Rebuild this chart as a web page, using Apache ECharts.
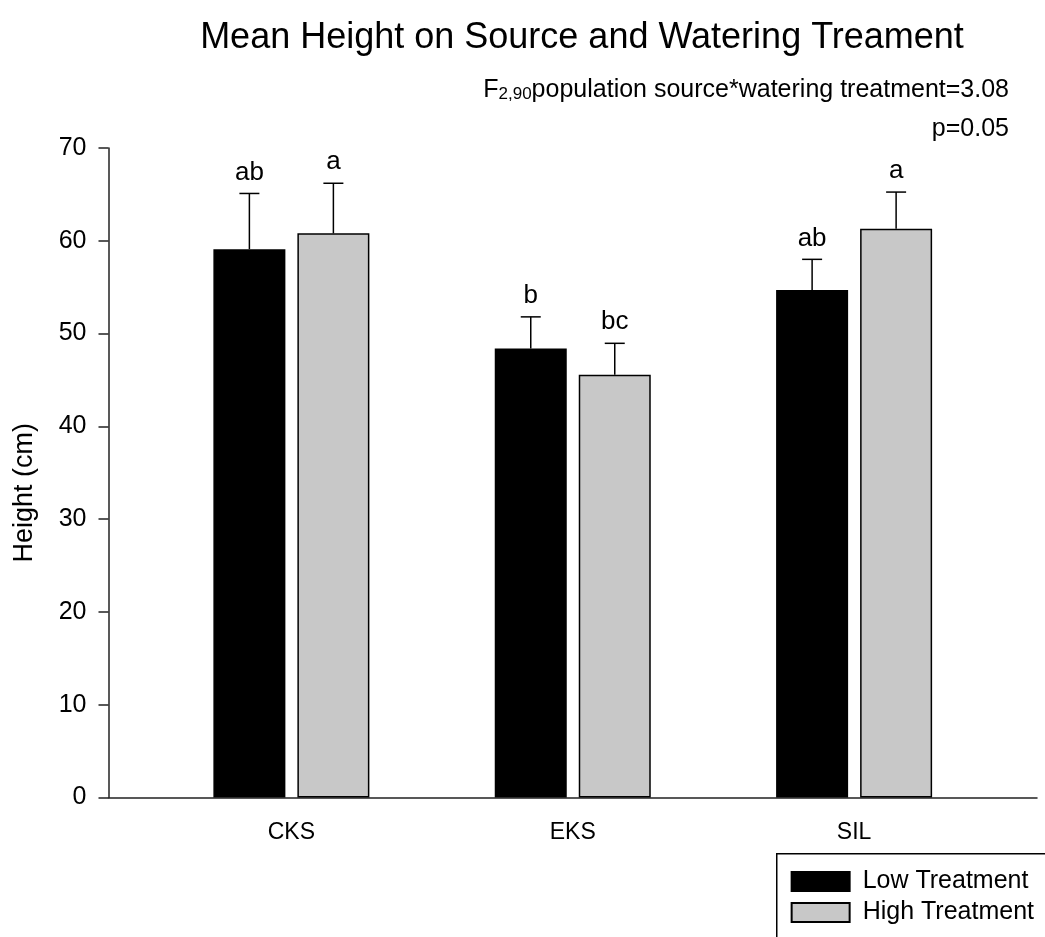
<!DOCTYPE html>
<html>
<head>
<meta charset="utf-8">
<script src="https://cdn.jsdelivr.net/npm/echarts@6/dist/echarts.min.js"></script>
<style>html,body{margin:0;padding:0;background:#fff;}#chart{width:1045px;height:937px;}</style>
</head>
<body>
<div id="chart"></div>
<script>
const categories = ['CKS', 'EKS', 'SIL'];
const catPos = [1, 2, 3];
const lowMeans = [59.1, 48.4, 54.7];
const lowErr = [6.0, 3.4, 3.3];
const lowLetters = ['ab', 'b', 'ab'];
const highMeans = [60.8, 45.55, 61.3];
const highErr = [5.4, 3.4, 3.95];
const highLetters = ['a', 'bc', 'a'];
const seriesNames = ['Low Treatment', 'High Treatment'];
const titleText = 'Mean Height on Source and Watering Treament';
const statText = ['F', '2,90', 'population source*watering treatment=3.08'];
const pText = 'p=0.05';
const yAxisName = 'Height (cm)';

const FONT = "'Liberation Sans', Arial, sans-serif";
const BAR_W = 72;
const GAP_PX = 12;
const OFFSET = (BAR_W + GAP_PX) / 2;

function barData(means) { return catPos.map((x, i) => [x, means[i]]); }
function errData(means, errs, letters) { return catPos.map((x, i) => [x, means[i], errs[i], letters[i]]); }

const errSource = {};
errSource[2] = errData(lowMeans, lowErr, lowLetters);
errSource[3] = errData(highMeans, highErr, highLetters);

function makeErrRender(shift) {
  return function (params, api) {
    const x = api.value(0), m = api.value(1), e = api.value(2);
    const letter = errSource[params.seriesIndex][params.dataIndex][3];
    const p0 = api.coord([x, m]);
    const p1 = api.coord([x, m + e]);
    const cx = p0[0] + shift;
    return {
      type: 'group',
      children: [
        { type: 'line', shape: { x1: cx, y1: p0[1], x2: cx, y2: p1[1] }, style: { stroke: '#000', lineWidth: 1.5 } },
        { type: 'line', shape: { x1: cx - 10, y1: p1[1], x2: cx + 10, y2: p1[1] }, style: { stroke: '#000', lineWidth: 1.5 } },
        { type: 'text', x: cx, y: p1[1] - 8, style: { text: letter, fill: '#000', font: '26px ' + FONT, align: 'center', verticalAlign: 'bottom' } }
      ]
    };
  };
}

const chart = echarts.init(document.getElementById('chart'));
chart.setOption({
  animation: false,
  backgroundColor: '#fff',
  textStyle: { fontFamily: FONT },
  title: [
    { text: titleText, left: 577, top: 15, textAlign: 'center',
      textStyle: { fontFamily: FONT, fontSize: 36, fontWeight: 'normal', color: '#000' } },
    { text: '{f|' + statText[0] + '}{s|' + statText[1] + '}{f|' + statText[2] + '}', right: 31, top: 68,
      textStyle: { fontWeight: 'normal', rich: {
        f: { fontFamily: FONT, fontSize: 25, fontWeight: 'normal', color: '#000', verticalAlign: 'bottom', lineHeight: 30 },
        s: { fontFamily: FONT, fontSize: 17, fontWeight: 'normal', color: '#000', verticalAlign: 'bottom', lineHeight: 12 } } } },
    { text: pText, right: 31, top: 112,
      textStyle: { fontFamily: FONT, fontSize: 25, fontWeight: 'normal', color: '#000' } }
  ],
  graphic: [
    { type: 'rect', shape: { x: 776.75, y: 853.75, width: 400, height: 200 }, z: 0,
      style: { fill: 'none', stroke: '#000', lineWidth: 1.5 } }
  ],
  legend: {
    data: seriesNames,
    orient: 'vertical',
    right: -110, bottom: -20,
    align: 'left',
    icon: 'rect',
    itemWidth: 58, itemHeight: 19, itemGap: 6,
    borderWidth: 0,
    padding: [16, 121, 32, 14],
    textStyle: { fontFamily: FONT, fontSize: 25, color: '#000', padding: [0, 0, 0, 8] }
  },
  grid: { left: 108.5, right: 8, top: 148, bottom: 139.5, containLabel: false },
  xAxis: {
    type: 'value', min: 0.35, max: 3.65,
    splitLine: { show: false },
    axisLine: { show: true, lineStyle: { color: '#222', width: 1.5 } },
    axisTick: { show: false },
    axisLabel: { customValues: catPos, formatter: v => categories[catPos.indexOf(Math.round(v))] || '',
                 fontFamily: FONT, fontSize: 23, color: '#000', margin: 24 }
  },
  yAxis: {
    type: 'value', min: 0, max: 70, interval: 10,
    name: yAxisName, nameLocation: 'middle', nameGap: 70,
    nameTextStyle: { fontFamily: FONT, fontSize: 27, color: '#000', padding: [0, 40, 0, 0] },
    splitLine: { show: false },
    axisLine: { show: true, lineStyle: { color: '#222', width: 1.5 } },
    axisTick: { show: true, inside: false, length: 10, lineStyle: { color: '#222', width: 1.5 } },
    axisLabel: { fontFamily: FONT, fontSize: 25, color: '#000', margin: 22 }
  },
  series: [
    { name: seriesNames[0], type: 'bar', data: barData(lowMeans), barWidth: BAR_W, barGap: (GAP_PX / BAR_W * 100) + '%',
      itemStyle: { color: '#000', borderColor: '#000', borderWidth: 1.5 } },
    { name: seriesNames[1], type: 'bar', data: barData(highMeans), barWidth: BAR_W, barGap: (GAP_PX / BAR_W * 100) + '%',
      itemStyle: { color: '#c8c8c8', borderColor: '#000', borderWidth: 1.5 } },
    { type: 'custom', renderItem: makeErrRender(-OFFSET), data: errSource[2], z: 5, silent: true },
    { type: 'custom', renderItem: makeErrRender(OFFSET), data: errSource[3], z: 5, silent: true }
  ]
});
</script>
</body>
</html>
